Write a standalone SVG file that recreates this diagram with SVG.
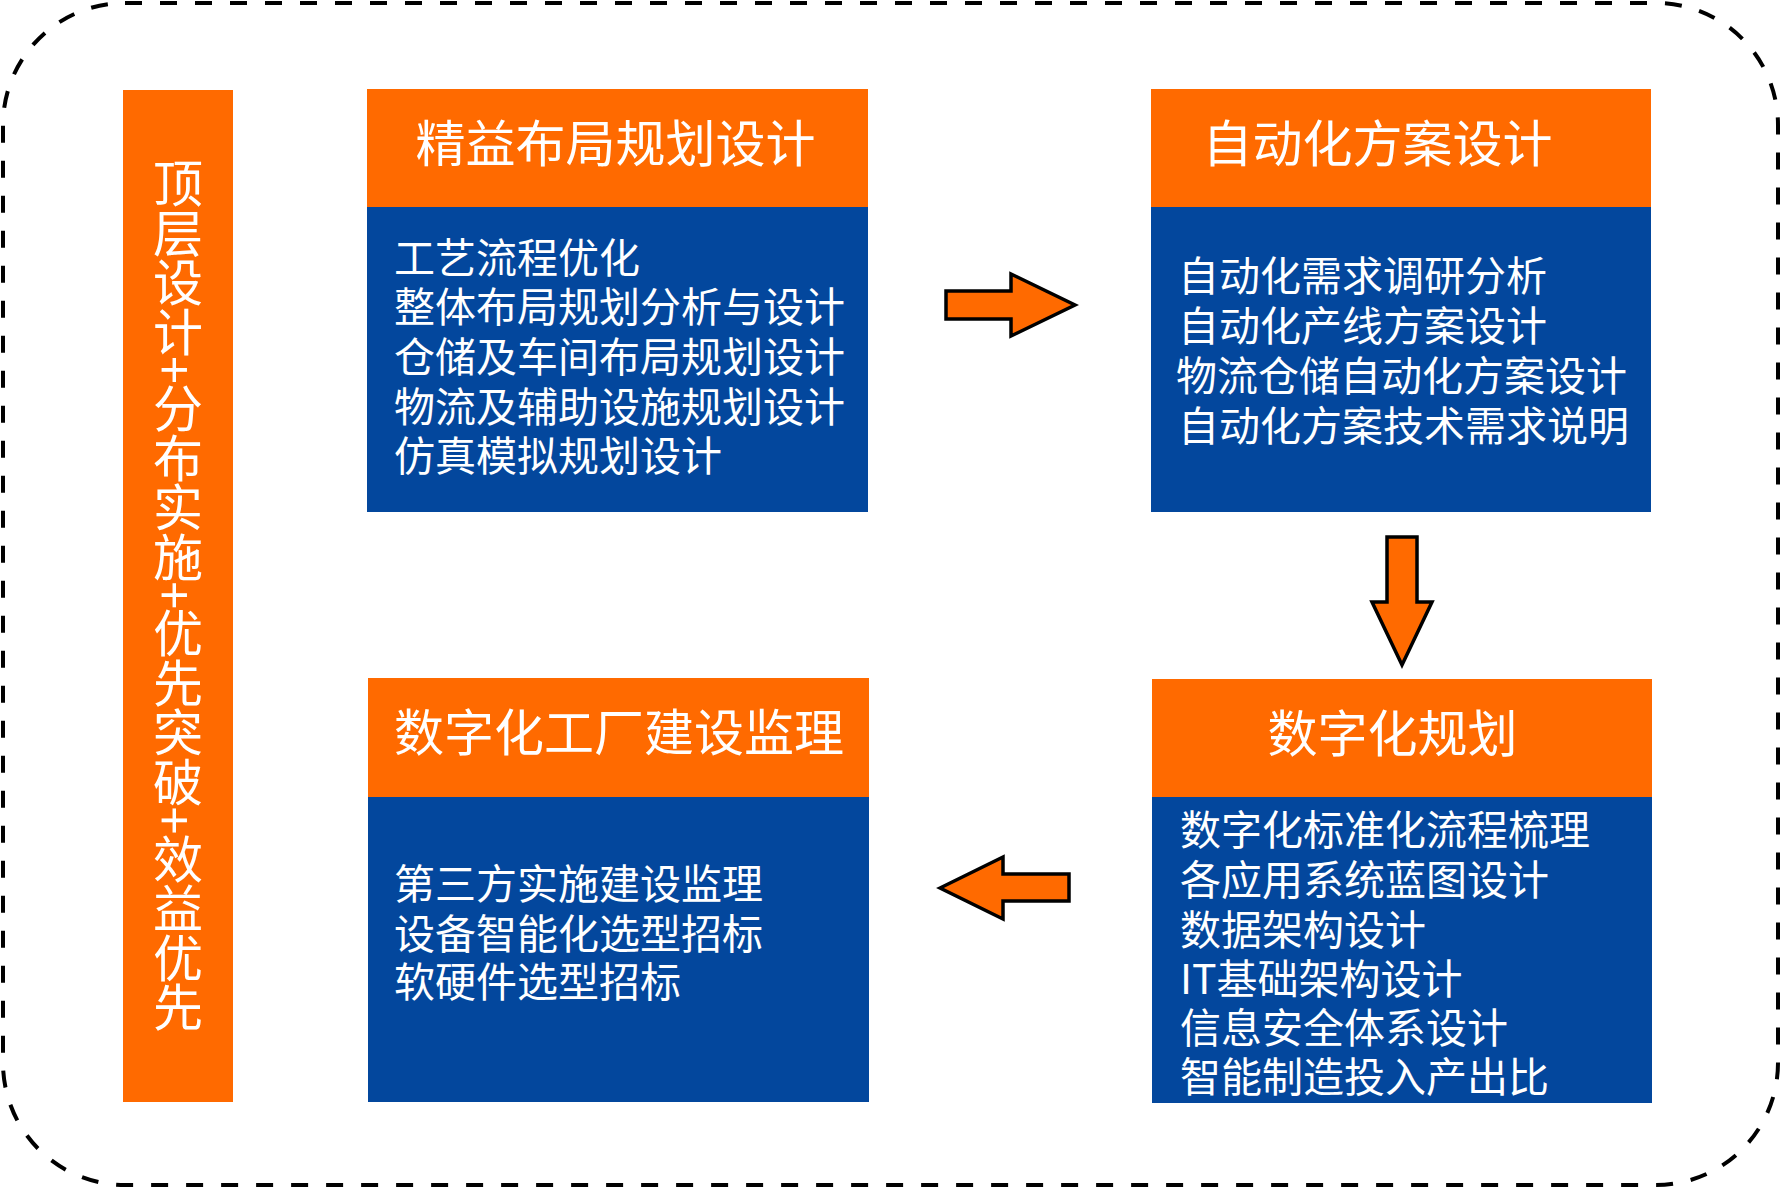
<svg xmlns="http://www.w3.org/2000/svg" width="1780" height="1187" viewBox="0 0 1780 1187">
  <style>
    .hdr { fill: #FF6A00; }
    .body { fill: #03479D; }
    .t { font-family: "Noto Sans CJK SC", "Noto Sans", sans-serif; fill: #FFFFFF; }
    .ht { font-size: 50px; }
    .bt { font-size: 41px; }
    .vt { font-size: 50px; letter-spacing: -0.5px; writing-mode: vertical-rl; text-orientation: mixed; }
    .arrow { fill: #FF6A00; stroke: #000000; stroke-width: 3.5; stroke-linejoin: miter; }
  </style>
  <rect x="0" y="0" width="1780" height="1187" fill="#FFFFFF"/>
  <rect id="frame" x="3" y="3" width="1775" height="1182" rx="122" ry="122" fill="none" stroke="#000000" stroke-width="4" stroke-dasharray="17 18"/>

  <g id="bar">
    <rect x="123" y="90" width="110" height="1012" class="hdr"/>
    <text class="t vt" x="178" y="158">顶层设计+分布实施+优先突破+效益优先</text>
  </g>

  <g id="lean-layout">
    <rect x="367" y="89" width="501" height="119" class="hdr"/>
    <rect x="367" y="207" width="501" height="305" class="body"/>
    <text class="t ht" x="415.5" y="161.5">精益布局规划设计</text>
    <text class="t bt">
      <tspan x="394" y="273">工艺流程优化</tspan>
      <tspan x="394" y="322">整体布局规划分析与设计</tspan>
      <tspan x="394" y="372">仓储及车间布局规划设计</tspan>
      <tspan x="394" y="422">物流及辅助设施规划设计</tspan>
      <tspan x="394" y="471">仿真模拟规划设计</tspan>
    </text>
  </g>

  <g id="automation">
    <rect x="1151" y="89" width="500" height="119" class="hdr"/>
    <rect x="1151" y="207" width="500" height="305" class="body"/>
    <text class="t ht" x="1202.5" y="161.5">自动化方案设计</text>
    <text class="t bt">
      <tspan x="1178" y="290.5">自动化需求调研分析</tspan>
      <tspan x="1178" y="340.5">自动化产线方案设计</tspan>
      <tspan x="1176" y="390.5">物流仓储自动化方案设计</tspan>
      <tspan x="1178" y="440.5">自动化方案技术需求说明</tspan>
    </text>
  </g>

  <g id="digital-planning">
    <rect x="1152" y="679" width="500" height="119" class="hdr"/>
    <rect x="1152" y="797" width="500" height="306" class="body"/>
    <text class="t ht" x="1267.5" y="751.5">数字化规划</text>
    <text class="t bt">
      <tspan x="1180" y="845">数字化标准化流程梳理</tspan>
      <tspan x="1180" y="895">各应用系统蓝图设计</tspan>
      <tspan x="1180" y="945">数据架构设计</tspan>
      <tspan x="1180" y="994">IT基础架构设计</tspan>
      <tspan x="1180" y="1043">信息安全体系设计</tspan>
      <tspan x="1180" y="1092">智能制造投入产出比</tspan>
    </text>
  </g>

  <g id="supervision">
    <rect x="368" y="678" width="501" height="120" class="hdr"/>
    <rect x="368" y="797" width="501" height="305" class="body"/>
    <text class="t ht" x="394" y="750.5">数字化工厂建设监理</text>
    <text class="t bt">
      <tspan x="394" y="899">第三方实施建设监理</tspan>
      <tspan x="394" y="949">设备智能化选型招标</tspan>
      <tspan x="394" y="997">软硬件选型招标</tspan>
    </text>
  </g>

  <g id="connectors">
    <polygon class="arrow" points="946,291 1011,291 1011,274 1075,305 1011,336 1011,319 946,319"/>
    <polygon class="arrow" points="1387,537 1417,537 1417,602 1432,602 1402,665 1372,602 1387,602"/>
    <polygon class="arrow" points="940,888 1003,857 1003,874 1069,874 1069,901 1003,901 1003,919"/>
  </g>
</svg>
